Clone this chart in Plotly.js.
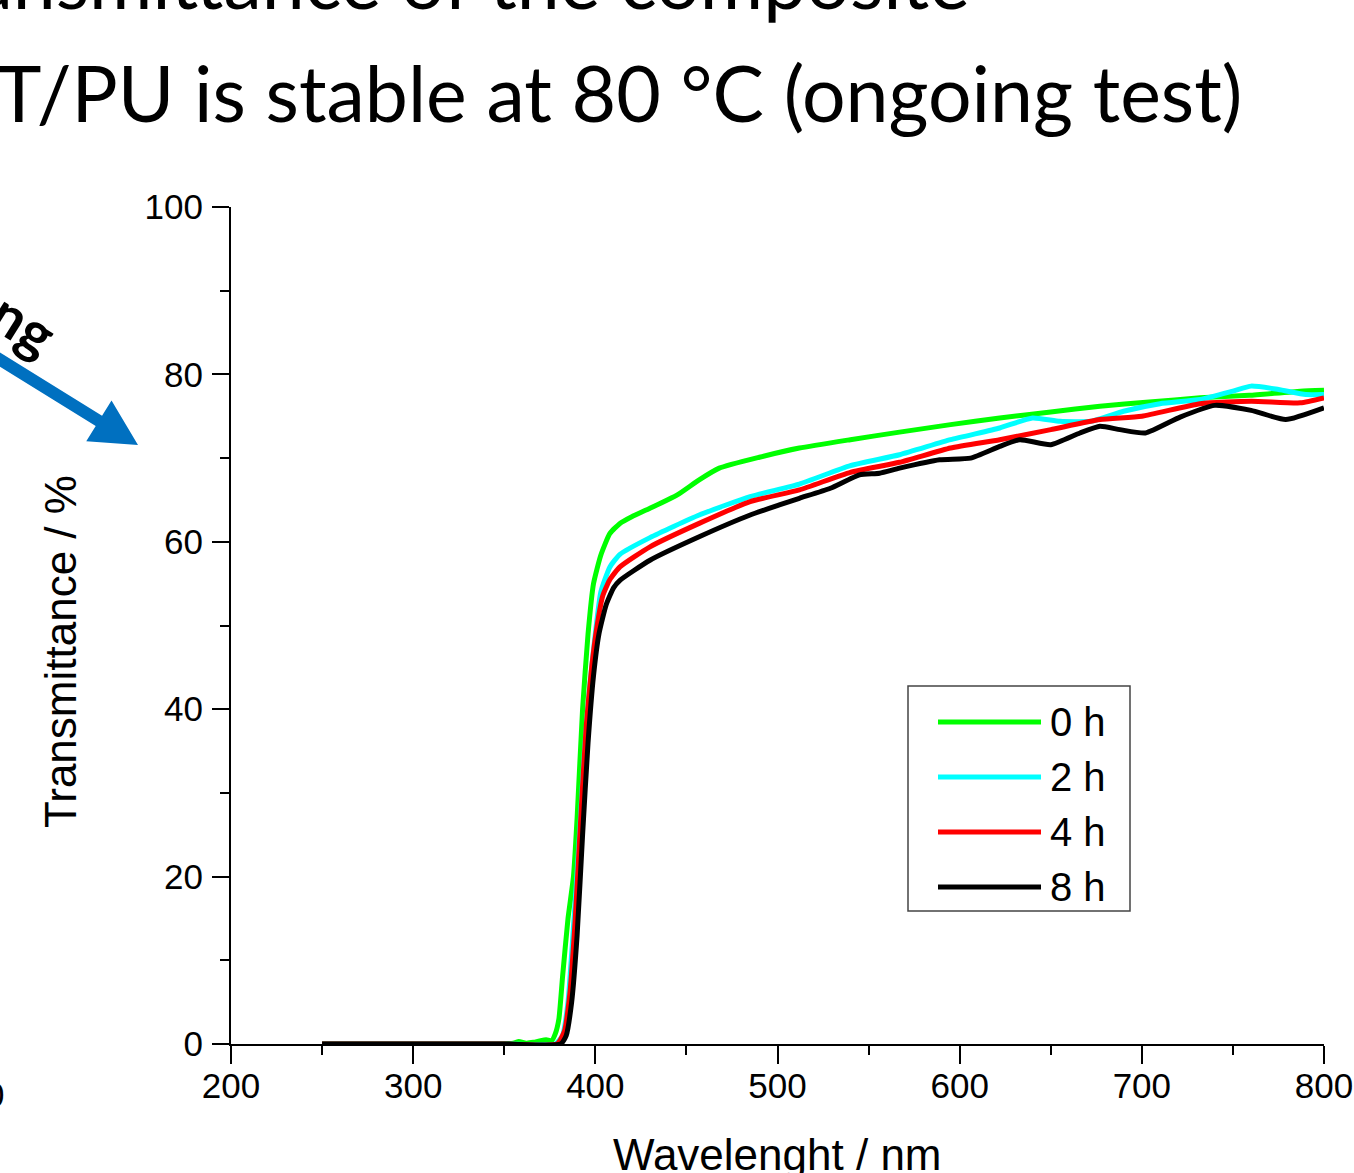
<!DOCTYPE html>
<html>
<head>
<meta charset="utf-8">
<script src="https://cdn.plot.ly/plotly-3.0.1.min.js"></script>
<style>html,body{margin:0;padding:0;background:#fff;}#chart{width:1354px;height:1173px;}</style>
</head>
<body>
<div id="chart"></div>
<script>
// ---- data ----
const seriesNames = ['0 h', '2 h', '4 h', '8 h'];
const seriesColors = ['#00ff00', '#00ffff', '#ff0000', '#000000'];

const wl0 = [250, 300, 340, 355, 358, 362, 366, 370, 373, 376, 378, 380, 382, 385, 388, 390, 393, 396, 399, 403, 408, 413.5, 420, 430, 445, 457, 468, 490, 512, 540, 567, 595, 622, 650, 677, 704, 732, 759, 787, 800];
const t0  = [0, 0, 0, 0.1, 0.3, 0.1, 0.2, 0.4, 0.5, 0.4, 1.2, 3, 8, 15, 20, 27, 40, 49, 55, 58.4, 61, 62.2, 63.0, 64.0, 65.6, 67.4, 68.8, 70.1, 71.2, 72.2, 73.1, 74.0, 74.8, 75.5, 76.2, 76.7, 77.2, 77.5, 78.0, 78.1];

const wl2 = [250, 300, 350, 378, 382, 385, 388, 391, 394, 397, 400, 403, 408, 413.5, 430, 457, 485, 512, 540, 567, 595, 622, 640, 655, 672, 690, 710, 732, 750, 760, 775, 790, 800];
const t2  = [0, 0, 0, 0, 1, 5, 14, 24, 35, 43, 49, 54, 57, 58.5, 60.5, 63.2, 65.4, 66.9, 69.1, 70.4, 72.2, 73.6, 74.8, 74.4, 74.4, 75.6, 76.5, 77.0, 78.0, 78.6, 78.2, 77.6, 77.6];

const wl4 = [250, 300, 350, 379, 383, 386, 389, 392, 395, 398, 401, 404, 408, 413.5, 430, 457, 485, 512, 540, 567, 595, 622, 650, 677, 700, 732, 760, 787, 800];
const t4  = [0, 0, 0, 0, 1.5, 6, 15, 27, 38, 45, 50, 53.5, 55.5, 57, 59.4, 62.2, 64.8, 66.2, 68.3, 69.5, 71.2, 72.2, 73.4, 74.6, 75.0, 76.5, 76.8, 76.6, 77.2];

const wl8 = [250, 300, 350, 381, 384, 387, 390, 393, 396, 399, 402, 406, 410, 413.5, 430, 457, 485, 501, 512, 529, 545, 556, 567, 589, 606, 622, 633, 650, 666, 677, 688, 702, 721, 740, 760, 779, 800];
const t8  = [0, 0, 0, 0, 1, 5, 13, 25, 36, 44, 49, 52.5, 54.5, 55.4, 57.8, 60.6, 63.2, 64.4, 65.2, 66.4, 68.0, 68.2, 68.8, 69.8, 70.0, 71.4, 72.2, 71.6, 73.0, 73.8, 73.4, 73.0, 74.9, 76.3, 75.7, 74.6, 76.0];

const xTickVals = [200, 300, 400, 500, 600, 700, 800];
const yTickVals = [0, 20, 40, 60, 80, 100];

// ---- layout helpers (pixel -> paper) ----
const L = 231, R = 1324, T = 207, B = 1044;
const px = v => (v - L) / (R - L);
const py = v => (B - v) / (B - T);

const xs = [wl0, wl2, wl4, wl8];
const ys = [t0, t2, t4, t8];
const traces = xs.map((x, i) => ({
  type: 'scatter', mode: 'lines', x: x, y: ys[i], name: seriesNames[i],
  line: {color: seriesColors[i], width: 5, shape: 'spline', smoothing: 0.5},
  showlegend: false
}));

const axisFont = {family: 'Liberation Sans, Arial, sans-serif', size: 35, color: '#000'};

const shapes = [];
const annotations = [];

// manual legend (long line samples like the reference)
shapes.push({type: 'rect', xref: 'paper', yref: 'paper',
  x0: px(908), x1: px(1130), y0: py(686), y1: py(911),
  line: {color: '#444', width: 1.5}, fillcolor: 'rgba(0,0,0,0)'});
seriesNames.forEach((n, i) => {
  const yy = 722 + 55 * i;
  shapes.push({type: 'line', xref: 'paper', yref: 'paper',
    x0: px(938), x1: px(1041), y0: py(yy), y1: py(yy),
    line: {color: seriesColors[i], width: 5}});
  annotations.push({xref: 'paper', yref: 'paper', x: px(1048), y: py(yy),
    xanchor: 'left', yanchor: 'middle', showarrow: false, text: n,
    font: {family: 'Liberation Sans, Arial, sans-serif', size: 40, color: '#000'}});
});

// blue arrow (slide decoration)
(function () {
  const tip = [138, 445], tail = [-30, 341];
  const dx = tip[0] - tail[0], dy = tip[1] - tail[1];
  const len = Math.hypot(dx, dy);
  const d = [dx / len, dy / len], n = [-d[1], d[0]];
  const headLen = 46, headHalf = 24, shaftHalf = 6;
  const base = [tip[0] - headLen * d[0], tip[1] - headLen * d[1]];
  const pts = [
    [tail[0] + shaftHalf * n[0], tail[1] + shaftHalf * n[1]],
    [base[0] + shaftHalf * n[0], base[1] + shaftHalf * n[1]],
    [base[0] + headHalf * n[0], base[1] + headHalf * n[1]],
    tip,
    [base[0] - headHalf * n[0], base[1] - headHalf * n[1]],
    [base[0] - shaftHalf * n[0], base[1] - shaftHalf * n[1]],
    [tail[0] - shaftHalf * n[0], tail[1] - shaftHalf * n[1]]
  ];
  const path = 'M' + pts.map(p => px(p[0]) + ',' + py(p[1])).join('L') + 'Z';
  shapes.push({type: 'path', xref: 'paper', yref: 'paper', path: path,
    fillcolor: '#0070c0', line: {width: 0}});
})();

// axis titles
annotations.push({xref: 'paper', yref: 'paper', x: px(60), y: py(652),
  xanchor: 'center', yanchor: 'middle', textangle: -90, showarrow: false,
  text: 'Transmittance / %', font: {family: 'Liberation Sans, Arial, sans-serif', size: 44, color: '#000'}});
annotations.push({xref: 'paper', yref: 'paper', x: px(777), y: py(1154),
  xanchor: 'center', yanchor: 'middle', showarrow: false,
  text: 'Wavelenght / nm', font: {family: 'Liberation Sans, Arial, sans-serif', size: 44, color: '#000'}});

// slide text around the chart
annotations.push({xref: 'paper', yref: 'paper', x: px(-6), y: py(92),
  xanchor: 'left', yanchor: 'middle', showarrow: false,
  text: 'T/PU is stable at 80 °C (ongoing test)',
  font: {family: 'Lato, Carlito, sans-serif', size: 77, color: '#000'}});
annotations.push({xref: 'paper', yref: 'paper', x: px(972), y: py(-21),
  xanchor: 'right', yanchor: 'middle', showarrow: false,
  text: 'Transmittance of the composite',
  font: {family: 'Lato, Carlito, sans-serif', size: 77, color: '#000'}});
annotations.push({xref: 'paper', yref: 'paper', x: px(24), y: py(322),
  xanchor: 'center', yanchor: 'middle', showarrow: false, textangle: 32,
  text: '<b>ng</b>',
  font: {family: 'Lato, Carlito, sans-serif', size: 58, color: '#000'}});
annotations.push({xref: 'paper', yref: 'paper', x: px(6), y: py(1094),
  xanchor: 'right', yanchor: 'middle', showarrow: false,
  text: '0', font: axisFont});

const layout = {
  width: 1354, height: 1173,
  margin: {l: L, r: 1354 - R, t: T, b: 1173 - B, pad: 0},
  paper_bgcolor: '#fff', plot_bgcolor: '#fff',
  showlegend: false,
  xaxis: {
    range: [200, 800], tickvals: xTickVals, ticktext: xTickVals.map(String),
    showgrid: false, zeroline: false, showline: true, linecolor: '#000', linewidth: 2,
    ticks: 'outside', ticklen: 18, tickwidth: 2, tickcolor: '#000',
    minor: {ticks: 'outside', ticklen: 9, tickwidth: 2, tickcolor: '#000', dtick: 50, tick0: 250, showgrid: false},
    tickfont: axisFont, automargin: false, ticklabelstandoff: -8, fixedrange: true
  },
  yaxis: {
    range: [0, 100], tickvals: yTickVals, ticktext: yTickVals.map(String),
    showgrid: false, zeroline: false, showline: true, linecolor: '#000', linewidth: 2,
    ticks: 'outside', ticklen: 17, tickwidth: 2, tickcolor: '#000',
    minor: {ticks: 'outside', ticklen: 9, tickwidth: 2, tickcolor: '#000', dtick: 10, tick0: 10, showgrid: false},
    tickfont: axisFont, automargin: false, ticklabelstandoff: 2, fixedrange: true
  },
  shapes: shapes,
  annotations: annotations
};

Plotly.newPlot('chart', traces, layout, {displayModeBar: false, staticPlot: true});
</script>
</body>
</html>
